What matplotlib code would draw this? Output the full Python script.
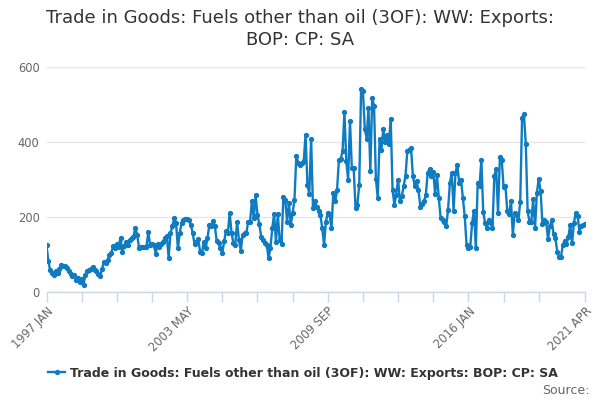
import numpy as np
import matplotlib
matplotlib.use('Agg')
import matplotlib.pyplot as plt

# monthly values, 1997 JAN .. 2021 APR (GBP million)
exports = [
    125, 82, 58, 52, 45, 55, 50, 62, 72, 70, 70, 65,            # 1997
    55, 48, 42, 45, 32, 38, 28, 35, 20, 45, 55, 58,             # 1998
    62, 68, 58, 55, 48, 42, 62, 80, 78, 85, 98, 104,            # 1999
    122, 117, 127, 120, 145, 108, 123, 134, 126, 139, 145, 148, # 2000
    171, 153, 117, 121, 121, 121, 121, 159, 126, 128, 126, 102, # 2001
    128, 121, 128, 134, 145, 150, 92, 157, 175, 197, 184, 117,  # 2002
    157, 184, 191, 195, 195, 193, 179, 157, 128, 134, 141, 108, # 2003
    104, 133, 117, 144, 179, 175, 190, 175, 135, 130, 117, 104, # 2004
    135, 163, 157, 211, 157, 130, 126, 187, 139, 110, 153, 157, # 2005
    157, 188, 187, 242, 197, 258, 206, 181, 148, 139, 130, 126, # 2006
    90, 117, 170, 208, 133, 208, 139, 128, 253, 246, 188, 237,  # 2007
    179, 211, 246, 364, 344, 340, 344, 349, 420, 286, 262, 409, # 2008
    224, 242, 228, 215, 206, 170, 126, 188, 212, 206, 170, 264, # 2009
    242, 271, 352, 355, 376, 480, 349, 300, 456, 331, 330, 224, # 2010
    233, 286, 541, 536, 435, 409, 492, 322, 518, 496, 302, 251, # 2011
    409, 380, 435, 400, 418, 394, 462, 273, 233, 260, 300, 242, # 2012
    255, 282, 310, 376, 380, 383, 309, 282, 295, 272, 228, 236, # 2013
    242, 260, 318, 328, 309, 321, 262, 311, 250, 197, 193, 188, # 2014
    175, 220, 291, 318, 217, 318, 340, 291, 300, 251, 202, 126, # 2015
    117, 121, 184, 217, 117, 291, 282, 353, 213, 184, 170, 193, # 2016
    184, 170, 309, 327, 211, 360, 353, 279, 282, 217, 208, 242, # 2017
    153, 210, 206, 191, 240, 465, 474, 394, 215, 188, 188, 248, # 2018
    170, 264, 302, 269, 182, 193, 188, 141, 175, 191, 155, 144, # 2019
    108, 93, 93, 126, 137, 128, 146, 179, 130, 184, 211, 204,   # 2020
    161, 177, 179, 182,                                         # 2021
]
start_year = 1997
month_names = ['JAN', 'FEB', 'MAR', 'APR', 'MAY', 'JUN',
               'JUL', 'AUG', 'SEP', 'OCT', 'NOV', 'DEC']
title = 'Trade in Goods: Fuels other than oil (3OF): WW: Exports: BOP: CP: SA'

line_col = '#0f7cc2'
axis_col = '#ccd6eb'

x = np.arange(len(exports))
labels = ['%d %s' % (start_year + i // 12, month_names[i % 12]) for i in x]

fig = plt.figure(figsize=(6, 4), dpi=100)
ax = fig.add_axes([0.0775, 0.27, 0.8975, 0.5625])

ax.plot(x, exports, color=line_col, lw=1.7, marker='o', ms=2.8,
        label=title)

ax.set_ylim(0, 600)
ax.set_yticks([0, 200, 400, 600])
ax.set_xlim(0, len(exports) - 1)

# ticks every 19 months, plus the last month
ticks = list(range(0, len(exports) - 19, 19)) + [len(exports) - 1]
ax.set_xticks(ticks)
ax.set_xticklabels([labels[t] if (t % 76 == 0 or t == len(exports) - 1) else ''
                    for t in ticks])

ax.grid(axis='y', color='#e6e6e6', lw=1)
ax.set_axisbelow(True)
for s in ['top', 'right', 'left']:
    ax.spines[s].set_visible(False)
ax.spines['bottom'].set_color(axis_col)
ax.spines['bottom'].set_linewidth(1)

ax.tick_params(axis='y', length=0, pad=5, labelsize=8.3, labelcolor='#666666')
ax.tick_params(axis='x', length=7, width=1, color=axis_col, pad=2,
               labelsize=8.3, labelcolor='#666666')
for lab in ax.get_xticklabels():
    lab.set_rotation(45)
    lab.set_ha('right')
    lab.set_va('top')
    lab.set_rotation_mode('anchor')

fig.text(0.5, 0.955, 'Trade in Goods: Fuels other than oil (3OF): WW: Exports:',
         ha='center', va='center', fontsize=13, color='#333333')
fig.text(0.5, 0.9, 'BOP: CP: SA', ha='center', va='center',
         fontsize=13, color='#333333')

leg = fig.legend(loc='center', bbox_to_anchor=(0.505, 0.067), frameon=False,
                 handlelength=1.3, handletextpad=0.4,
                 prop={'weight': 'bold', 'size': 9})
for t in leg.get_texts():
    t.set_color('#333333')

fig.text(0.982, 0.025, 'Source:', ha='right', va='center',
         fontsize=9, color='#666666')

fig.savefig('out.png', dpi=100)
